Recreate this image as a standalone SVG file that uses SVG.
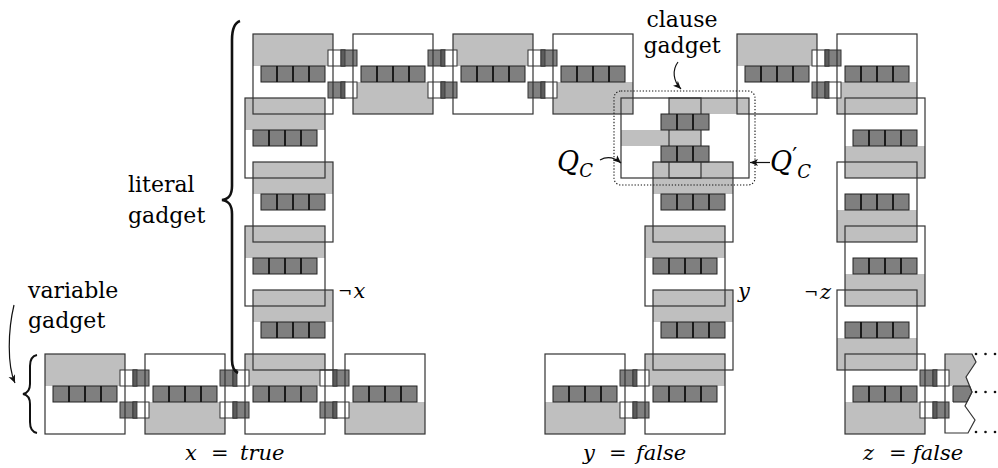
<svg xmlns="http://www.w3.org/2000/svg" width="998" height="468" viewBox="0 0 998 468">
<style>
.g{fill:#bfbfbf}
.box{fill:none;stroke:#333;stroke-width:1.2}
.bar{fill:#7f7f7f;stroke:#222;stroke-width:1}
.div{stroke:#111;stroke-width:1.8}
.sqw{fill:#fff;stroke:#333;stroke-width:1}
.sqd{fill:#808080;stroke:#333;stroke-width:1}
.ov{fill:#5c5c5c;stroke:#333;stroke-width:0.8}
.t{font-family:"DejaVu Serif",serif;font-size:22px;fill:#000}
.mi{font-family:"DejaVu Serif",serif;font-style:italic;font-size:21px;fill:#000}
.mr{font-family:"DejaVu Serif",serif;font-size:21px;fill:#000}
.big{font-size:27px}
.sub{font-size:18px}
.pr{font-size:22px;font-style:normal}
.neg{font-size:17px}
.arr{fill:none;stroke:#111;stroke-width:1.2}
.brace{fill:none;stroke:#111}
</style>
<defs>
<marker id="ah" markerUnits="userSpaceOnUse" markerWidth="9" markerHeight="8" refX="8" refY="4" orient="auto">
<path d="M0 0.5 L8 4 L0 7.5 L2 4 Z" fill="#111"/>
</marker>
<g id="bar4"><rect class="bar" width="64" height="16"/><path class="div" d="M16 0V16M32 0V16M48 0V16"/></g>
<g id="bar3"><rect class="bar" width="48" height="16"/><path class="div" d="M16 0V16M32 0V16"/></g>
<g id="cWD"><rect class="sqw" x="0" width="17" height="16"/><rect class="sqd" x="13" width="16" height="16"/><rect class="ov" x="13" width="4" height="16"/></g>
<g id="cDW"><rect class="sqd" x="0" width="17" height="16"/><rect class="sqw" x="13" width="16" height="16"/><rect class="ov" x="13" width="4" height="16"/></g>
</defs>

<g id="shading">
<rect class="g" x="253" y="34" width="80" height="32"/>
<rect class="g" x="353" y="82" width="80" height="32"/>
<rect class="g" x="453" y="34" width="80" height="32"/>
<rect class="g" x="553" y="82" width="80" height="32"/>
<rect class="g" x="737" y="34" width="80" height="32"/>
<rect class="g" x="837" y="82" width="80" height="32"/>
<rect class="g" x="245" y="98" width="80" height="32"/>
<rect class="g" x="253" y="162" width="80" height="32"/>
<rect class="g" x="245" y="226" width="80" height="32"/>
<rect class="g" x="253" y="290" width="80" height="32"/>
<rect class="g" x="653" y="162" width="80" height="32"/>
<rect class="g" x="645" y="226" width="80" height="32"/>
<rect class="g" x="653" y="290" width="80" height="32"/>
<rect class="g" x="845" y="146" width="80" height="32"/>
<rect class="g" x="837" y="210" width="80" height="32"/>
<rect class="g" x="845" y="274" width="80" height="32"/>
<rect class="g" x="837" y="338" width="80" height="32"/>
<rect class="g" x="45" y="354" width="80" height="32"/>
<rect class="g" x="145" y="402" width="80" height="32"/>
<rect class="g" x="245" y="354" width="80" height="32"/>
<rect class="g" x="345" y="402" width="80" height="32"/>
<rect class="g" x="545" y="402" width="80" height="32"/>
<rect class="g" x="645" y="354" width="80" height="32"/>
<rect class="g" x="845" y="402" width="80" height="32"/>
<polygon class="g" points="945,354 972,354 976,362 966,377 969.6,386 945,386"/>
<rect class="g" x="701" y="98" width="48" height="16"/>
<rect class="g" x="621" y="130" width="48" height="16"/>
</g>

<g id="links">
<use href="#cWD" x="328" y="50"/><use href="#cDW" x="328" y="82"/>
<use href="#cDW" x="428" y="50"/><use href="#cWD" x="428" y="82"/>
<use href="#cWD" x="528" y="50"/><use href="#cDW" x="528" y="82"/>
<use href="#cWD" x="812" y="50"/><use href="#cDW" x="812" y="82"/>
<use href="#cWD" x="120" y="370"/><use href="#cDW" x="120" y="402"/>
<use href="#cDW" x="220" y="370"/><use href="#cWD" x="220" y="402"/>
<use href="#cWD" x="320" y="370"/><use href="#cDW" x="320" y="402"/>
<use href="#cDW" x="620" y="370"/><use href="#cWD" x="620" y="402"/>
<use href="#cDW" x="920" y="370"/><use href="#cWD" x="920" y="402"/>
</g>

<g id="T1"><rect class="box" x="253" y="34" width="80" height="80"/><use href="#bar4" x="261" y="66"/></g>
<g id="T2"><rect class="box" x="353" y="34" width="80" height="80"/><use href="#bar4" x="361" y="66"/></g>
<g id="T3"><rect class="box" x="453" y="34" width="80" height="80"/><use href="#bar4" x="461" y="66"/></g>
<g id="T4"><rect class="box" x="553" y="34" width="80" height="80"/><use href="#bar4" x="561" y="66"/></g>
<g id="T5"><rect class="box" x="737" y="34" width="80" height="80"/><use href="#bar4" x="745" y="66"/></g>
<g id="T6"><rect class="box" x="837" y="34" width="80" height="80"/><use href="#bar4" x="845" y="66"/></g>
<g id="L1"><rect class="box" x="245" y="98" width="80" height="80"/><use href="#bar4" x="253" y="130"/></g>
<g id="L2"><rect class="box" x="253" y="162" width="80" height="80"/><use href="#bar4" x="261" y="194"/></g>
<g id="L3"><rect class="box" x="245" y="226" width="80" height="80"/><use href="#bar4" x="253" y="258"/></g>
<g id="L4"><rect class="box" x="253" y="290" width="80" height="80"/><use href="#bar4" x="261" y="322"/></g>
<g id="clause">
<rect x="669" y="98" width="32" height="80" fill="#bfbfbf" stroke="#333" stroke-width="1.2"/>
<rect class="box" x="621" y="98" width="128" height="80"/>
<use href="#bar3" x="661" y="114"/>
<use href="#bar3" x="661" y="146"/>
<rect x="614" y="91" width="141" height="94" rx="7" fill="none" stroke="#111" stroke-width="1.1" stroke-dasharray="1.3,1.8"/>
</g>
<g id="M2"><rect class="box" x="653" y="162" width="80" height="80"/><use href="#bar4" x="661" y="194"/></g>
<g id="M3"><rect class="box" x="645" y="226" width="80" height="80"/><use href="#bar4" x="653" y="258"/></g>
<g id="M4"><rect class="box" x="653" y="290" width="80" height="80"/><use href="#bar4" x="661" y="322"/></g>
<g id="R1"><rect class="box" x="845" y="98" width="80" height="80"/><use href="#bar4" x="853" y="130"/></g>
<g id="R2"><rect class="box" x="837" y="162" width="80" height="80"/><use href="#bar4" x="845" y="194"/></g>
<g id="R3"><rect class="box" x="845" y="226" width="80" height="80"/><use href="#bar4" x="853" y="258"/></g>
<g id="R4"><rect class="box" x="837" y="290" width="80" height="80"/><use href="#bar4" x="845" y="322"/></g>
<g id="B1"><rect class="box" x="45" y="354" width="80" height="80"/><use href="#bar4" x="53" y="386"/></g>
<g id="B2"><rect class="box" x="145" y="354" width="80" height="80"/><use href="#bar4" x="153" y="386"/></g>
<g id="B3"><rect class="box" x="245" y="354" width="80" height="80"/><use href="#bar4" x="253" y="386"/></g>
<g id="B4"><rect class="box" x="345" y="354" width="80" height="80"/><use href="#bar4" x="353" y="386"/></g>
<g id="Y1"><rect class="box" x="545" y="354" width="80" height="80"/><use href="#bar4" x="553" y="386"/></g>
<g id="Y2"><rect class="box" x="645" y="354" width="80" height="80"/><use href="#bar4" x="653" y="386"/></g>
<g id="Z1"><rect class="box" x="845" y="354" width="80" height="80"/><use href="#bar4" x="853" y="386"/></g>
<g id="Z2">
<polygon class="bar" points="953,386 969.6,386 972,392 967,402 953,402"/>
<path class="box" d="M972 354 L945 354 L945 433 L968 433 L975 420 L965 406 L972 392 L966 377 L976 362 Z"/>
<g fill="#111">
<circle cx="976" cy="354" r="1.3"/><circle cx="985.5" cy="354" r="1.3"/><circle cx="995" cy="354" r="1.3"/>
<circle cx="976" cy="392" r="1.3"/><circle cx="985.5" cy="392" r="1.3"/><circle cx="995" cy="392" r="1.3"/>
<circle cx="976" cy="432" r="1.3"/><circle cx="985.5" cy="432" r="1.3"/><circle cx="995" cy="432" r="1.3"/>
</g>
</g>

<g id="connectors">
<path class="brace" stroke-width="2.6" d="M240 21 C234 23 232 29 232 40 L232 186 C232 195 229 199 222 200 C229 201 232 205 232 214 L232 360 C232 367 234 371 238 373"/>
<path class="brace" stroke-width="2" d="M37 355 C32 356 30 360 30 366 L30 384 C30 390 28 393 23 394 C28 395 30 398 30 404 L30 422 C30 428 32 432 37 433"/>
<path class="arr" d="M14 305 C8 330 7 365 15 383" marker-end="url(#ah)"/>
<path class="arr" d="M678 62 C672 70 673 81 681 89" marker-end="url(#ah)"/>
<path class="arr" d="M600 160 C607 156 614 157 621 163" marker-end="url(#ah)"/>
<path class="arr" d="M770 162.5 L750 162.5" marker-end="url(#ah)"/>
</g>

<g id="labels">
<text class="t" x="128" y="192">literal</text>
<text class="t" x="128" y="223">gadget</text>
<text class="t" x="28" y="298">variable</text>
<text class="t" x="28" y="328">gadget</text>
<text class="t" x="682" y="27" text-anchor="middle">clause</text>
<text class="t" x="682" y="53" text-anchor="middle">gadget</text>
<text class="mi big" x="557" y="171">Q<tspan class="sub" dy="6">C</tspan></text>
<text class="mi big" x="770" y="171">Q<tspan class="pr" dy="-8">′</tspan><tspan class="sub" dy="15">C</tspan></text>
<text class="mr neg" x="338" y="297">¬</text><text class="mi" x="353.5" y="298">x</text>
<text class="mi" x="738" y="298">y</text>
<text class="mr neg" x="804" y="298">¬</text><text class="mi" x="820" y="299">z</text>
<text class="mi" x="185" y="460">x</text><text class="mr" x="211" y="460">=</text><text class="mi" x="240" y="460">true</text>
<text class="mi" x="583" y="460">y</text><text class="mr" x="609" y="460">=</text><text class="mi" x="636" y="460">false</text>
<text class="mi" x="863" y="460">z</text><text class="mr" x="889" y="460">=</text><text class="mi" x="913" y="460">false</text>
</g>
</svg>
